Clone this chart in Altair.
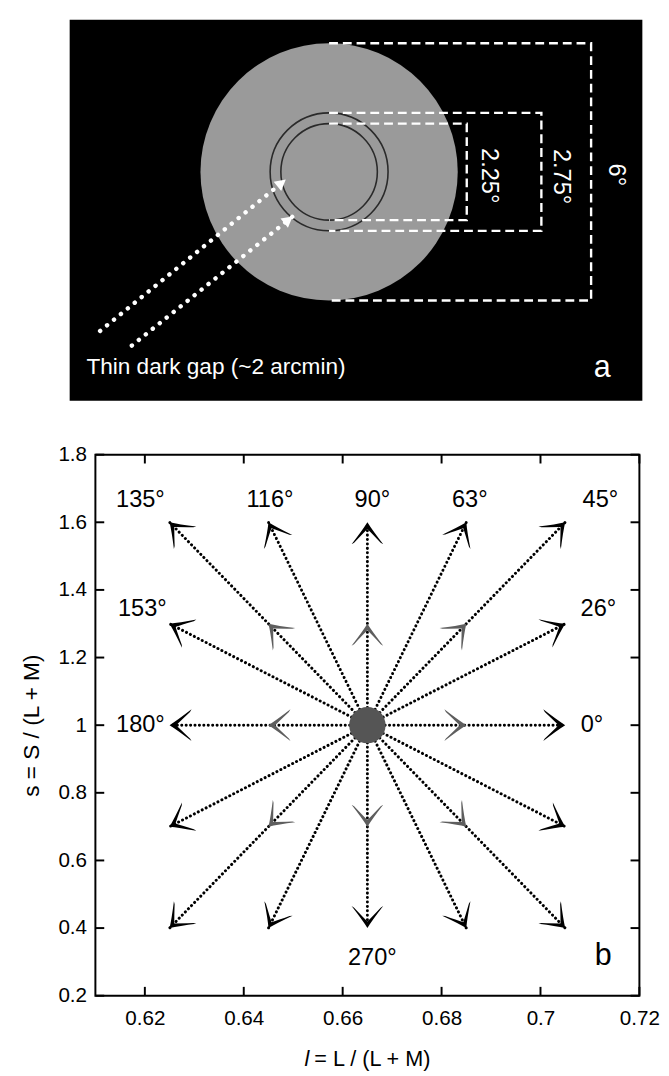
import math
import altair as alt
import pandas as pd

# ---------------- panel a : stimulus geometry (degrees of visual angle) ----------------
disk_diam = [6.0]
ring_diam = [2.75, 2.25]
bracket_diam = [6.0, 2.75, 2.25]
bracket_reach = [6.11, 4.95, 3.21]
bracket_text = ["6°", "2.75°", "2.25°"]
bracket_text_x = [6.68, 5.40, 3.72]
bracket_text_y = [-0.07, -0.11, -0.09]
pointer_x0 = [-5.34, -4.60]
pointer_y0 = [-3.71, -4.05]
pointer_x1 = [-1.01, -0.85]
pointer_y1 = [-0.18, -1.04]
panel_box = [-6.05, 7.305, -5.335, 3.549]   # x0, x1, y0, y1
note_text = ["Thin dark gap (~2 arcmin)"]
note_x = [-5.66]
note_y = [-4.56]
tag_a_x = [6.37]
tag_a_y = [-4.58]

# ---------------- panel b : directions in the l-s plane ----------------
centre_l = 0.665
centre_s = 1.0
dir_angle = [0, 26, 45, 63, 90, 116, 135, 153, 180, 207, 225, 243, 270, 297, 315, 333]
end_l = [0.705, 0.705, 0.705, 0.685, 0.665, 0.645, 0.625, 0.625,
         0.625, 0.625, 0.625, 0.645, 0.665, 0.685, 0.705, 0.705]
end_s = [1.0, 1.3, 1.6, 1.6, 1.6, 1.6, 1.6, 1.3,
         1.0, 0.7, 0.4, 0.4, 0.4, 0.4, 0.4, 0.7]
inner_angle = [0, 45, 90, 135, 180, 225, 270, 315]
inner_l = [0.685, 0.685, 0.665, 0.645, 0.645, 0.645, 0.665, 0.685]
inner_s = [1.0, 1.3, 1.3, 1.3, 1.0, 0.7, 0.7, 0.7]
label_text = ["0°", "26°", "45°", "63°", "90°", "116°", "135°", "153°", "180°", "270°"]
label_l = [0.7104, 0.7117, 0.7121, 0.6857, 0.666, 0.6453, 0.6191, 0.6195, 0.6191, 0.666]
label_s = [1.0, 1.343, 1.665, 1.665, 1.665, 1.665, 1.665, 1.343, 1.0, 0.311]
x_ticks = [0.62, 0.64, 0.66, 0.68, 0.70, 0.72]
y_ticks = [0.2, 0.4, 0.6, 0.8, 1.0, 1.2, 1.4, 1.6, 1.8]

FONT = "Liberation Sans"

# ================= panel a =================
A_W, A_H = 557, 388
PX_PER_DEG = 43.67
xa = alt.Scale(domain=[-5.45, -5.45 + A_W / PX_PER_DEG], nice=False, zero=False)
ya = alt.Scale(domain=[panel_box[2], panel_box[2] + A_H / PX_PER_DEG], nice=False, zero=False)


def XA(f):
    return alt.X(f, type="quantitative", scale=xa, axis=None)


def YA(f):
    return alt.Y(f, type="quantitative", scale=ya, axis=None)


box_df = pd.DataFrame({"x0": [panel_box[0]], "x1": [panel_box[1]],
                       "y0": [panel_box[2]], "y1": [panel_box[3]]})
bg = alt.Chart(box_df).mark_rect(color="black").encode(
    x=XA("x0"), x2="x1", y=YA("y0"), y2="y1")

disk_df = pd.DataFrame({"x": [0.0], "y": [0.0], "d": disk_diam})
disk_df["area"] = (disk_df["d"] * PX_PER_DEG) ** 2
disk = alt.Chart(disk_df).mark_point(shape="circle", filled=True, color="#9a9a9a", opacity=1).encode(
    x=XA("x"), y=YA("y"), size=alt.Size("area:Q", scale=None))

ring_df = pd.DataFrame({"x": [0.0] * len(ring_diam), "y": [0.0] * len(ring_diam), "d": ring_diam})
ring_df["area"] = (ring_df["d"] * PX_PER_DEG) ** 2
rings = alt.Chart(ring_df).mark_point(shape="circle", filled=False, color="#2a2a2a",
                                      strokeWidth=1.6, opacity=1).encode(
    x=XA("x"), y=YA("y"), size=alt.Size("area:Q", scale=None))

rows = []
for i, (d, reach) in enumerate(zip(bracket_diam, bracket_reach)):
    r = d / 2
    for k, (px, py) in enumerate([(0, r), (reach, r), (reach, -r), (0, -r)]):
        rows.append({"b": i, "k": k, "x": px, "y": py})
br_df = pd.DataFrame(rows)
brackets = alt.Chart(br_df).mark_line(color="white", strokeWidth=2.4, strokeDash=[9, 5]).encode(
    x=XA("x"), y=YA("y"), detail="b:N", order="k:Q")

br_txt_df = pd.DataFrame({"t": bracket_text, "x": bracket_text_x, "y": bracket_text_y})
br_txt = alt.Chart(br_txt_df).mark_text(color="white", fontSize=24, angle=90, align="center",
                                         baseline="middle", font=FONT).encode(
    x=XA("x"), y=YA("y"), text="t:N")

ptr_df = pd.DataFrame({"x0": pointer_x0, "y0": pointer_y0, "x1": pointer_x1, "y1": pointer_y1})
ptr_df["rot"] = [(360 - math.degrees(math.atan2(b - a, d - c))) % 360
                 for a, b, c, d in zip(ptr_df.y0, ptr_df.y1, ptr_df.x0, ptr_df.x1)]
ptr_lines = alt.Chart(ptr_df).mark_rule(color="white", strokeWidth=4.5, strokeDash=[0.1, 9],
                                        strokeCap="round").encode(
    x=XA("x0"), y=YA("y0"), x2="x1", y2="y1")
ptr_heads = alt.Chart(ptr_df).mark_point(shape="M0,0 L-1,-0.55 L-1,0.55 Z", filled=True,
                                         color="white", opacity=1, size=484).encode(
    x=XA("x1"), y=YA("y1"), angle=alt.Angle("rot:Q", scale=None))

note_df = pd.DataFrame({"t": note_text, "x": note_x, "y": note_y})
note = alt.Chart(note_df).mark_text(color="white", fontSize=23, align="left", baseline="middle",
                                    font=FONT).encode(x=XA("x"), y=YA("y"), text="t:N")
tag_a_df = pd.DataFrame({"t": ["a"], "x": tag_a_x, "y": tag_a_y})
tag_a = alt.Chart(tag_a_df).mark_text(color="white", fontSize=31, align="center", baseline="middle",
                                      font=FONT).encode(x=XA("x"), y=YA("y"), text="t:N")

panel_a = alt.layer(bg, disk, rings, brackets, br_txt, ptr_lines, ptr_heads, note, tag_a).properties(
    width=A_W, height=A_H, view=alt.ViewBackground(stroke="transparent"))

# ================= panel b =================
B_W, B_H = 554, 551
xb = alt.Scale(domain=[0.61, 0.72], nice=False, zero=False)
yb = alt.Scale(domain=[0.2, 1.8], nice=False, zero=False)
x_axis = alt.Axis(values=x_ticks, format="~g", ticks=False, domain=False, grid=False,
                  labelFontSize=21, labelPadding=12, labelColor="black", labelFont=FONT,
                  labelFlush=False, labelOverlap=False, title=None)
y_axis = alt.Axis(values=y_ticks, format="~g", ticks=False, domain=False, grid=False,
                  labelFontSize=21, labelPadding=9, labelColor="black", labelFont=FONT,
                  labelFlush=False, labelOverlap=False,
                  title="s = S / (L + M)", titleFontSize=23, titleFontWeight="normal",
                  titleFont=FONT, titleColor="black", titlePadding=15)


def XB(f):
    return alt.X(f, type="quantitative", scale=xb, axis=x_axis)


def YB(f):
    return alt.Y(f, type="quantitative", scale=yb, axis=y_axis)


dir_df = pd.DataFrame({"ang": dir_angle, "l1": end_l, "s1": end_s})
dir_df["l0"] = centre_l
dir_df["s0"] = centre_s
dir_df["rot"] = (360 - dir_df["ang"]) % 360

inner_df = pd.DataFrame({"ang": inner_angle, "l": inner_l, "s": inner_s})
inner_df["rot"] = (360 - inner_df["ang"]) % 360

HEAD = ("M0,0 Q-0.32,-0.2 -0.86,-0.62 L-0.8,-0.52 Q-0.46,-0.2 -0.26,0 "
        "Q-0.46,0.2 -0.8,0.52 L-0.86,0.62 Q-0.32,0.2 0,0 Z")

lines = alt.Chart(dir_df).mark_rule(color="#000000", strokeWidth=3, strokeDash=[0.1, 4.4],
                                    strokeCap="round").encode(
    x=XB("l0"), y=YB("s0"), x2="l1", y2="s1")
outer_heads = alt.Chart(dir_df).mark_point(shape=HEAD, filled=True, color="#000000", opacity=1,
                                           size=2704).encode(
    x=XB("l1"), y=YB("s1"), angle=alt.Angle("rot:Q", scale=None))
inner_heads = alt.Chart(inner_df).mark_point(shape=HEAD, filled=True, color="#5e5e5e", opacity=1,
                                             size=2704).encode(
    x=XB("l"), y=YB("s"), angle=alt.Angle("rot:Q", scale=None))
centre = alt.Chart(pd.DataFrame({"l": [centre_l], "s": [centre_s]})).mark_circle(
    color="#555555", opacity=1, size=1369).encode(x=XB("l"), y=YB("s"))

lab_df = pd.DataFrame({"t": label_text, "l": label_l, "s": label_s})
labels = alt.Chart(lab_df).mark_text(fontSize=24, font=FONT, color="black", align="center",
                                     baseline="middle").encode(x=XB("l"), y=YB("s"), text="t:N")
tag_b = alt.Chart(pd.DataFrame({"t": ["b"], "l": [0.7127], "s": [0.317]})).mark_text(
    fontSize=31, font=FONT, color="black", align="center", baseline="middle").encode(
    x=XB("l"), y=YB("s"), text="t:N")

xt_df = pd.DataFrame({"v": x_ticks})
yt_df = pd.DataFrame({"v": y_ticks})
tick_kw = dict(color="black", strokeWidth=2)
xt_bottom = alt.Chart(xt_df).mark_rule(**tick_kw).encode(
    x=XB("v"), y=alt.value(B_H), y2=alt.value(B_H - 9))
xt_top = alt.Chart(xt_df).mark_rule(**tick_kw).encode(
    x=XB("v"), y=alt.value(0), y2=alt.value(9))
yt_left = alt.Chart(yt_df).mark_rule(**tick_kw).encode(
    y=YB("v"), x=alt.value(0), x2=alt.value(9))
yt_right = alt.Chart(yt_df).mark_rule(**tick_kw).encode(
    y=YB("v"), x=alt.value(B_W), x2=alt.value(B_W - 9))

one = pd.DataFrame({"t": ["l"]})
xtitle_l = alt.Chart(one).mark_text(fontSize=22, font=FONT, fontStyle="italic", color="black",
                                    align="left", baseline="alphabetic").encode(
    x=alt.value(213), y=alt.value(B_H + 72), text="t:N")
xtitle_rest = alt.Chart(pd.DataFrame({"t": ["= L / (L + M)"]})).mark_text(
    fontSize=22, font=FONT, color="black", align="left", baseline="alphabetic").encode(
    x=alt.value(223), y=alt.value(B_H + 72), text="t:N")

panel_b = alt.layer(lines, inner_heads, outer_heads, centre, labels, tag_b,
                    xt_bottom, xt_top, yt_left, yt_right, xtitle_l, xtitle_rest).properties(
    width=B_W, height=B_H, view=alt.ViewBackground(stroke="black", strokeWidth=2))

chart = alt.vconcat(panel_a, panel_b, spacing=55, bounds="flush").properties(
    padding={"left": 11, "top": 1, "right": 0, "bottom": 0}
).configure(font=FONT)

chart.save("out.html", embed_options={"renderer": "svg", "actions": False})
